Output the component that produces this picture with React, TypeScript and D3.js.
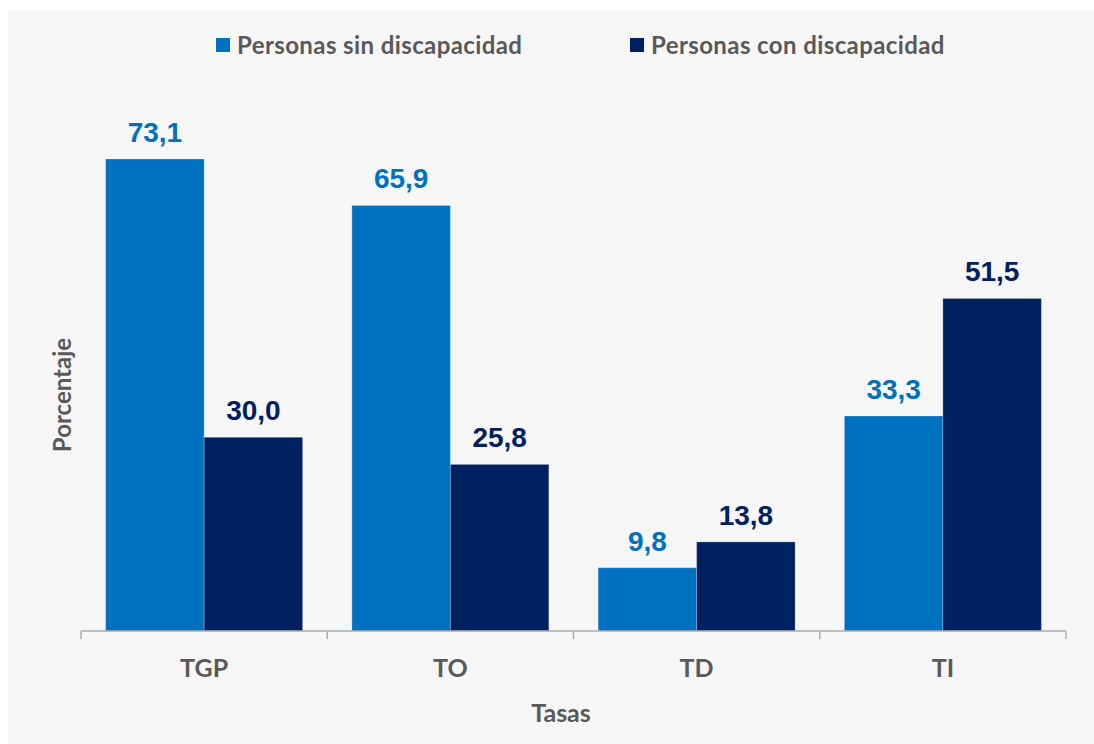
import React, { useEffect, useRef } from 'react';
import * as d3 from 'd3';

const categories = ['TGP', 'TO', 'TD', 'TI'];
const seriesNames = ['Personas sin discapacidad', 'Personas con discapacidad'];
const sinDiscapacidad = [73.1, 65.9, 9.8, 33.3];
const conDiscapacidad = [30.0, 25.8, 13.8, 51.5];
const seriesColors = ['#0070c0', '#002060'];

const W = 1094;
const H = 744;

const App = () => {
  const ref = useRef<SVGSVGElement>(null);

  useEffect(() => {
    if (!ref.current) return;
    const svg = d3.select(ref.current);
    svg.selectAll('*').remove();

    const font = 'Lato, "Open Sans", sans-serif';
    const valueFont = '"Liberation Sans", Arial, sans-serif';
    const textGray = '#595959';

    // panel background
    svg.append('rect')
      .attr('x', 8).attr('y', 11)
      .attr('width', W - 8).attr('height', H - 11)
      .attr('fill', '#f6f6f6');

    const margin = { left: 81, right: 1066, baseline: 631 };

    const x0 = d3.scaleBand<string>()
      .domain(categories)
      .range([margin.left, margin.right])
      .paddingInner(0)
      .paddingOuter(0);

    // two bars fill 80% of each category band
    const x1 = d3.scaleBand<number>()
      .domain([0, 1])
      .range([0, x0.bandwidth()])
      .paddingOuter(0.25)
      .paddingInner(0);

    const y = d3.scaleLinear().domain([0, 80]).range([margin.baseline, margin.baseline - 80 * 6.457]);

    const series = [sinDiscapacidad, conDiscapacidad];

    series.forEach((vals, si) => {
      const g = svg.append('g');
      g.selectAll('rect')
        .data(vals)
        .enter()
        .append('rect')
        .attr('x', (_, i) => (x0(categories[i]) as number) + (x1(si) as number))
        .attr('y', d => y(d))
        .attr('width', x1.bandwidth())
        .attr('height', d => y(0) - y(d))
        .attr('fill', seriesColors[si])
        .attr('stroke', '#ffffff')
        .attr('stroke-opacity', 0.25)
        .attr('stroke-width', 1);

      g.selectAll('text')
        .data(vals)
        .enter()
        .append('text')
        .attr('x', (_, i) => (x0(categories[i]) as number) + (x1(si) as number) + x1.bandwidth() / 2)
        .attr('y', d => y(d) - 17)
        .attr('text-anchor', 'middle')
        .attr('fill', seriesColors[si])
        .style('font-family', valueFont)
        .style('font-size', '28px')
        .style('font-weight', 'bold')
        .text(d => d.toFixed(1).replace('.', ','));
    });

    // x axis
    const axis = svg.append('g').attr('transform', `translate(0,${margin.baseline})`);
    axis.append('line')
      .attr('x1', margin.left).attr('x2', margin.right)
      .attr('y1', 0).attr('y2', 0)
      .attr('stroke', '#a6acb4').attr('stroke-width', 1.5);
    const ticks = [...categories.map(c => x0(c) as number), margin.right];
    axis.selectAll('line.tick')
      .data(ticks)
      .enter()
      .append('line')
      .attr('class', 'tick')
      .attr('x1', d => d).attr('x2', d => d)
      .attr('y1', 0).attr('y2', 8)
      .attr('stroke', '#a6acb4').attr('stroke-width', 1.5);
    axis.selectAll('text')
      .data(categories)
      .enter()
      .append('text')
      .attr('x', d => (x0(d) as number) + x0.bandwidth() / 2)
      .attr('y', 46)
      .attr('text-anchor', 'middle')
      .attr('fill', textGray)
      .style('font-family', font)
      .style('font-size', '25px')
      .style('font-weight', 'bold')
      .text(d => d);

    // axis titles
    svg.append('text')
      .attr('x', 561)
      .attr('y', 722)
      .attr('text-anchor', 'middle')
      .attr('fill', textGray)
      .style('font-family', font)
      .style('font-size', '25px')
      .style('font-weight', 'bold')
      .text('Tasas');

    svg.append('text')
      .attr('transform', 'translate(71,395) rotate(-90)')
      .attr('text-anchor', 'middle')
      .attr('fill', textGray)
      .style('font-family', font)
      .style('font-size', '24px')
      .style('font-weight', 'bold')
      .text('Porcentaje');

    // legend
    const legendX = [216, 630];
    seriesNames.forEach((name, i) => {
      const lg = svg.append('g').attr('transform', `translate(${legendX[i]},38)`);
      lg.append('rect').attr('width', 14).attr('height', 14).attr('fill', seriesColors[i]);
      lg.append('text')
        .attr('x', 21).attr('y', 16)
        .attr('fill', textGray)
        .style('font-family', font)
        .style('font-size', '24px')
        .style('font-weight', 'bold')
        .style('letter-spacing', '0.4px')
        .text(name);
    });
  }, []);

  return (
    <svg ref={ref} width={W} height={H}
      style={{ position: 'absolute', left: 0, top: 0, display: 'block' }} />
  );
};

export default App;
